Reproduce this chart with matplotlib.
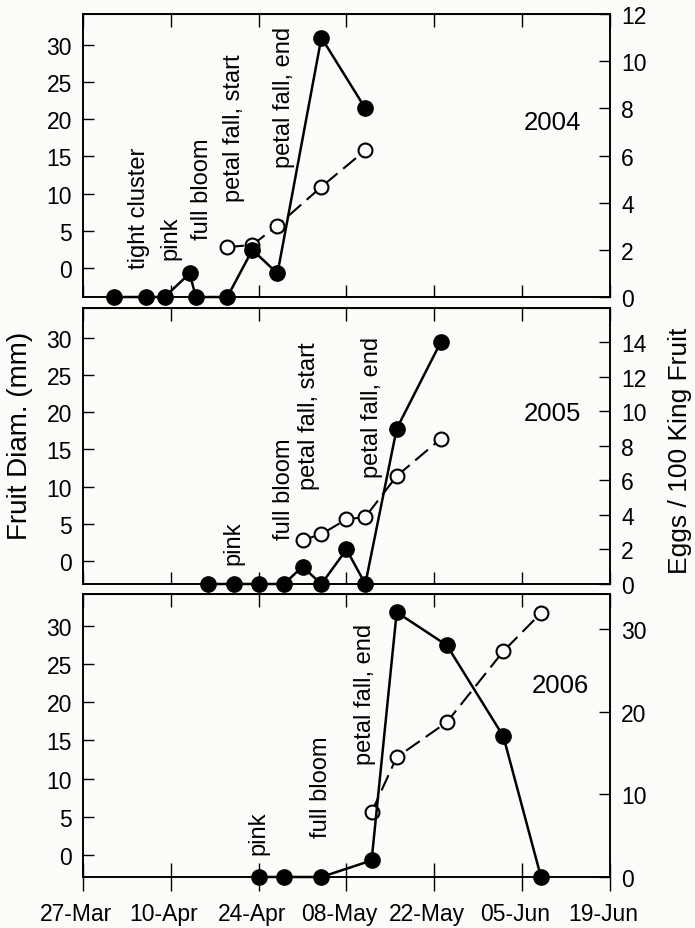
import pandas as pd
import matplotlib
matplotlib.use('Agg')
import matplotlib.pyplot as plt
import matplotlib.dates as mdates
from matplotlib.transforms import ScaledTranslation

plt.rcParams['font.family'] = ['Liberation Sans', 'DejaVu Sans']

BG = '#fcfcf8'

# 2004 (month-day, plotted on a common season axis)
egg_dates_2004 = ['04-01', '04-06', '04-09', '04-13', '04-14', '04-19', '04-23', '04-27', '05-04', '05-11']
eggs_2004 = [0, 0, 0, 1, 0, 0, 2, 1, 11, 8]
diam_dates_2004 = ['04-19', '04-23', '04-27', '05-04', '05-11']
diam_2004 = [2.8, 3.1, 5.7, 10.9, 15.8]
stage_names_2004 = ['tight cluster', 'pink', 'full bloom', 'petal fall, start', 'petal fall, end']
stage_dates_2004 = ['04-05', '04-10', '04-15', '04-20', '04-28']
stage_y_2004 = [0, 1.2, 3.9, 9.0, 13.6]

# 2005
egg_dates_2005 = ['04-16', '04-20', '04-24', '04-28', '05-01', '05-04', '05-08', '05-11', '05-16', '05-23']
eggs_2005 = [0, 0, 0, 0, 1, 0, 2, 0, 9, 14]
diam_dates_2005 = ['05-01', '05-04', '05-08', '05-11', '05-16', '05-23']
diam_2005 = [2.8, 3.6, 5.6, 5.9, 11.4, 16.4]
stage_names_2005 = ['pink', 'full bloom', 'petal fall, start', 'petal fall, end']
stage_dates_2005 = ['04-20', '04-28', '05-02', '05-12']
stage_y_2005 = [-0.4, 3.0, 9.7, 11.3]

# 2006
egg_dates_2006 = ['04-24', '04-28', '05-04', '05-12', '05-16', '05-24', '06-02', '06-08']
eggs_2006 = [0, 0, 0, 2, 32, 28, 17, 0]
diam_dates_2006 = ['05-12', '05-16', '05-24', '06-02', '06-08']
diam_2006 = [5.6, 12.8, 17.4, 26.7, 31.7]
stage_names_2006 = ['pink', 'full bloom', 'petal fall, end']
stage_dates_2006 = ['04-24', '05-04', '05-11']
stage_y_2006 = [0.1, 2.4, 11.9]

years = ['2004', '2005', '2006']
egg_dates = [egg_dates_2004, egg_dates_2005, egg_dates_2006]
eggs = [eggs_2004, eggs_2005, eggs_2006]
diam_dates = [diam_dates_2004, diam_dates_2005, diam_dates_2006]
diams = [diam_2004, diam_2005, diam_2006]
stage_names = [stage_names_2004, stage_names_2005, stage_names_2006]
stage_dates = [stage_dates_2004, stage_dates_2005, stage_dates_2006]
stage_ys = [stage_y_2004, stage_y_2005, stage_y_2006]

x_ticks = ['03-27', '04-10', '04-24', '05-08', '05-22', '06-05', '06-19']
right_ticks = [[0, 2, 4, 6, 8, 10, 12], [0, 2, 4, 6, 8, 10, 12, 14], [0, 10, 20, 30]]


def to_dates(md):
    return pd.to_datetime(['2001-' + s for s in md])


# panel geometry
left_ylims = [(-3.9, 34.1), (-3.1, 34.0), (-2.9, 34.2)]
right_ylims = [(0, 12), (0, 16), (0, 34.2)]
boxes = [[0.1194, 0.6792, 0.7583, 0.3046],
         [0.1194, 0.3703, 0.7583, 0.2971],
         [0.1194, 0.0549, 0.7583, 0.3046]]
year_pos = [(0.89, 0.62), (0.89, 0.62), (0.905, 0.68)]

fig = plt.figure(figsize=(6.95, 9.29), dpi=100, facecolor=BG)
tick_dates = to_dates(x_ticks)

for i in range(3):
    ax = fig.add_axes(boxes[i], facecolor=BG)
    ax2 = ax.twinx()

    # fruit diameter (open circles, dashed)
    ax.plot(to_dates(diam_dates[i]), diams[i], linestyle=(0, (8, 3.5)), color='black', lw=1.5,
            marker='o', ms=10, mfc=BG, mec='black', mew=1.5, clip_on=False, zorder=3)
    # eggs (filled circles, solid)
    ax2.plot(to_dates(egg_dates[i]), eggs[i], '-', color='black', lw=1.8,
             marker='o', ms=11, mfc='black', mec='black', clip_on=False, zorder=4)

    for name, d, yv in zip(stage_names[i], to_dates(stage_dates[i]), stage_ys[i]):
        ax.text(d, yv, name, rotation=90, ha='center', va='bottom', fontsize=17)

    ax.text(year_pos[i][0], year_pos[i][1], years[i], transform=ax.transAxes,
            ha='center', va='center', fontsize=18.5)

    ax.set_xlim(tick_dates[0], tick_dates[-1])
    ax.set_ylim(*left_ylims[i])
    ax2.set_ylim(*right_ylims[i])
    ax.set_yticks(range(0, 31, 5))
    ax2.set_yticks(right_ticks[i])
    ax.set_xticks(tick_dates)
    ax.xaxis.set_major_formatter(mdates.DateFormatter('%d-%b'))

    ax.tick_params(axis='y', direction='in', length=8, width=1, labelsize=16.5, pad=8)
    ax2.tick_params(axis='y', direction='in', length=8, width=1, labelsize=16.5, pad=8)
    top = ax.secondary_xaxis('top')
    top.set_xticks(tick_dates)
    top.tick_params(direction='in', length=9, width=1, labeltop=False)
    if i < 2:
        ax.tick_params(axis='x', direction='in', length=9, width=1, labelbottom=False)
    else:
        ax.tick_params(axis='x', direction='inout', length=20, width=1, labelsize=16.5, pad=8)
        shift = ScaledTranslation(-0.07, 0, fig.dpi_scale_trans)
        for lbl in ax.get_xticklabels():
            lbl.set_transform(lbl.get_transform() + shift)

    for a in (ax, ax2):
        for s in a.spines.values():
            s.set_linewidth(1.2)

fig.text(0.029, 0.531, 'Fruit Diam. (mm)', rotation=90, ha='center', va='center', fontsize=20)
fig.text(0.978, 0.515, 'Eggs / 100 King Fruit', rotation=90, ha='center', va='center', fontsize=19)

fig.savefig('out.png', dpi=100, facecolor=BG)
